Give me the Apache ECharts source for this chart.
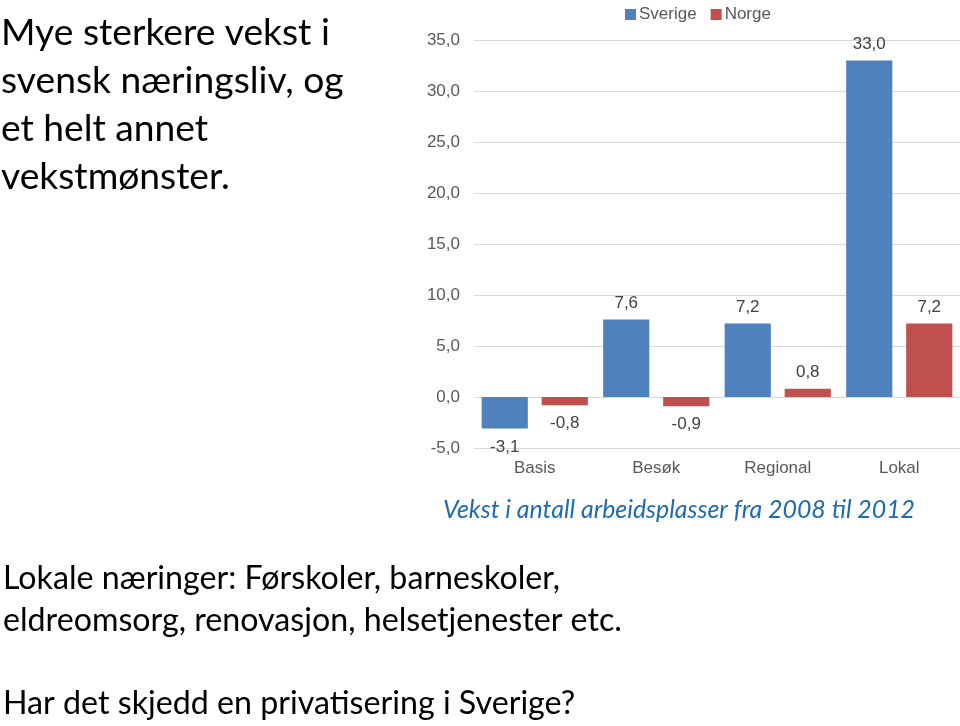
<!DOCTYPE html>
<html><head><meta charset="utf-8">
<script src="https://cdn.jsdelivr.net/npm/echarts@6/dist/echarts.min.js"></script>
<style>html,body{margin:0;padding:0;background:#fff}#c{width:960px;height:726px}</style>
</head><body><div id="c"></div>
<script>
const categories = ['Basis', 'Besøk', 'Regional', 'Lokal'];
const sverige = [-3.1, 7.6, 7.2, 33.0];
const norge = [-0.8, -0.9, 0.8, 7.2];
const seriesNames = ['Sverige', 'Norge'];
const titleLines = ['Mye sterkere vekst i', 'svensk næringsliv, og', 'et helt annet', 'vekstmønster.'];
const caption = 'Vekst i antall arbeidsplasser fra 2008 til 2012';
const bottomLines = ['Lokale næringer: Førskoler, barneskoler,', 'eldreomsorg, renovasjon, helsetjenester etc.'];
const question = 'Har det skjedd en privatisering i Sverige?';

const fmt = v => Number(v).toFixed(1).replace('.', ',');
const mkData = arr => arr.map(v => ({value: v, label: {position: v < 0 ? 'bottom' : 'top', distance: v < 0 ? 10 : 8}}));
const chart = echarts.init(document.getElementById('c'));
const graphics = [];
titleLines.forEach((t, i) => graphics.push({type: 'text', left: 1, top: 15 + i * 48,
  style: {text: t, fontFamily: 'Lato', fontSize: 37.2, fill: '#000'}}));
graphics.push({type: 'text', left: 443, top: 497, style: {text: caption, fontFamily: 'Lato', fontStyle: 'italic', fontSize: 24.9, fill: '#1F6BB0'}});
bottomLines.forEach((t, i) => graphics.push({type: 'text', left: 3, top: 563 + i * 42,
  style: {text: t, fontFamily: 'Lato', fontSize: 32.2, fill: '#000'}}));
graphics.push({type: 'text', left: 3, top: 688, style: {text: question, fontFamily: 'Lato', fontSize: 32.2, fill: '#000'}});

chart.setOption({
  animation: false,
  legend: {left: 620, top: 1, itemWidth: 11, itemHeight: 11, itemGap: 14, icon: 'rect',
    textStyle: {fontFamily: 'Liberation Sans', fontSize: 17, color: '#595959', padding: [0, 0, 0, -2]}, data: seriesNames},
  grid: {left: 474, right: 0, top: 40, bottom: 278, containLabel: false},
  xAxis: {type: 'category', data: categories, axisLine: {show: false}, axisTick: {show: false},
    axisLabel: {fontFamily: 'Liberation Sans', fontSize: 17, color: '#595959', margin: 12}},
  yAxis: {type: 'value', min: -5, max: 35, interval: 5,
    axisLabel: {formatter: fmt, fontFamily: 'Liberation Sans', fontSize: 17, color: '#595959', margin: 14},
    splitLine: {lineStyle: {color: '#D9D9D9'}}, axisLine: {show: false}, axisTick: {show: false}},
  series: [
    {name: seriesNames[0], type: 'bar', data: mkData(sverige), barWidth: '38%', barGap: '30%',
      itemStyle: {color: '#4F81BD'},
      label: {show: true, formatter: p => fmt(p.value), fontFamily: 'Liberation Sans', fontSize: 17, color: '#404040'}},
    {name: seriesNames[1], type: 'bar', data: mkData(norge), barWidth: '38%',
      itemStyle: {color: '#C0504D'},
      label: {show: true, formatter: p => fmt(p.value), fontFamily: 'Liberation Sans', fontSize: 17, color: '#404040'}}
  ],
  graphic: graphics
});
</script></body></html>
